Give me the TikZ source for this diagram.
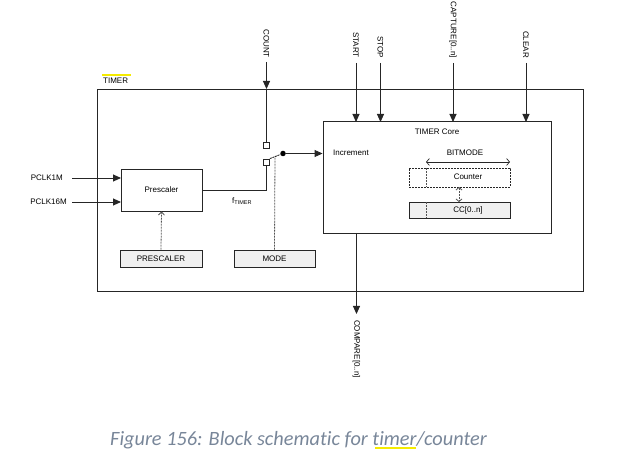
\documentclass[tikz,border=0pt]{standalone}
\usepackage{fontspec}
\setmainfont{Liberation Sans}
\newfontfamily\capfont[Ligatures=CommonOff]{Carlito}
\usetikzlibrary{arrows.meta}
\definecolor{ln}{gray}{0.15}
\definecolor{boxfill}{gray}{0.94}
\definecolor{capcol}{RGB}{120,134,153}
\definecolor{hl}{RGB}{245,235,0}
\tikzset{
  lbl/.style={font=\fontsize{8}{9}\selectfont, text=black, inner sep=0pt},
  vlbl/.style={lbl, rotate=-90},
  wire/.style={draw=ln, line width=0.9pt},
  arr/.style={wire, -{Triangle[length=8pt,width=7pt]}},
  dashln/.style={draw=ln!80, line width=0.8pt, dash pattern=on 2pt off 1pt},
  regbox/.style={draw=ln, line width=0.9pt, fill=boxfill},
  sq/.style={draw=ln, line width=0.8pt, fill=white, minimum size=6pt, inner sep=0pt},
}
\begin{document}
\begin{tikzpicture}[x=1pt,y=-1pt]
\useasboundingbox (0,0) rectangle (633,470);
% outer TIMER box
\draw[wire] (97,89) rectangle (583,291);
\node[lbl, anchor=west] (timerlbl) at (103,81) {TIMER};
\draw[hl, line width=1.6pt] (102,75) -- (131,75);

% Prescaler
\node[wire, minimum width=81pt, minimum height=42pt, inner sep=0pt] (pre) at (161.5,190) {};
\node[lbl] (prelbl) at (pre.center) {Prescaler};
\node[lbl, anchor=east] (pclk1) at (63,178) {PCLK1M};
\node[lbl, anchor=east] (pclk16) at (67,202) {PCLK16M};
\coordinate (p1in) at (121,178);
\coordinate (p16in) at (121,202);
\draw[arr] (72,178) -- (p1in);
\draw[arr] (72,202) -- (p16in);

% PRESCALER register
\node[regbox, minimum width=82pt, minimum height=17pt, inner sep=0pt] (prereg) at (161,258.5) {};
\node[lbl] at (prereg.center) {PRESCALER};
\draw[dashln, -{Straight Barb[length=3pt,width=6pt]}] (prereg.north) -- (pre.south);

% MODE register
\node[regbox, minimum width=81pt, minimum height=17pt, inner sep=0pt] (modereg) at (274.5,258.5) {};
\node[lbl] at (modereg.center) {MODE};

% COUNT input
\node[vlbl, anchor=east] (countlbl) at (266.5,58) {COUNT};
\coordinate (cnttop) at (266.5,62);
\coordinate (cntbox) at (266.5,89);
\draw[arr] (cnttop) -- (cntbox);
\node[sq] (sqa) at (266.5,145) {};
\node[sq] (sqb) at (266.5,162) {};
\draw[wire] (cntbox) -- (sqa.north);
\draw[wire] (pre.east |- 0,190) -| (sqb.south);
\node[lbl, anchor=west] (ftimer) at (232,201) {f\textsubscript{\fontsize{5.5}{6}\selectfont TIMER}};

% switch
\node[circle, fill=black, inner sep=0pt, minimum size=5.5pt] (dot) at (283,153.5) {};
\draw[wire, dash pattern=on 2pt off 0.7pt] (sqb.north east) -- (dot);
\draw[dashln] (modereg.north) -- (275,157.5);

% TIMER Core
\node[wire, minimum width=228pt, minimum height=112pt, inner sep=0pt] (core) at (437,177) {};
\node[lbl] (corelbl) at (437,132) {TIMER Core};
\node[lbl, anchor=west] (incr) at (333,153) {Increment};
\draw[arr] (dot) -- (core.west |- dot);

% inputs
\foreach \x/\t/\n in {356/START/start, 380.5/STOP/stop, 453/CAPTURE[0..n]/capt, 526/CLEAR/clear}{
  \node[vlbl, anchor=east] (\n) at (\x,58) {\t};
  \coordinate (\n top) at (\x,63);
  \draw[arr] (\n top) -- (\x,122);
}

% output COMPARE
\coordinate (cmpend) at (356.5,314);
\draw[arr] (356.5,233) -- (cmpend);
\node[vlbl, anchor=west] (cmplbl) at (356.5,320) {COMPARE[0..n]};

% BITMODE / Counter / CC
\node[lbl] (bitmode) at (465,153) {BITMODE};
\coordinate (bmL) at (426,162);
\coordinate (bmR) at (510,162);
\draw[wire, line width=0.7pt, {Straight Barb[length=3pt,width=7pt]}-{Straight Barb[length=3pt,width=7pt]}] (bmL) -- (bmR);
\node[dashln, minimum width=101pt, minimum height=19pt, inner sep=0pt, draw=ln] (counter) at (459.5,177.5) {};
\node[lbl] at (468,177) {Counter};
\draw[dashln] (426,168) -- (426,187);
\node[regbox, minimum width=101pt, minimum height=16pt, inner sep=0pt] (cc) at (459.5,210) {};
\node[lbl] at (468,210) {CC[0..n]};
\draw[dashln] (426,202) -- (426,218);
\draw[dashln, {Straight Barb[length=2.5pt,width=6pt]}-{Straight Barb[length=2.5pt,width=6pt]}] (459,187) -- (459,202);

% caption
\node[font=\capfont\itshape\fontsize{20.3}{24}\selectfont, text=capcol, anchor=west, inner sep=0pt] (caption) at (110,440) {Figure 156: Block schematic for timer/counter};
\draw[hl, line width=1.2pt] (375,448) -- (416,448);
\end{tikzpicture}
\end{document}
